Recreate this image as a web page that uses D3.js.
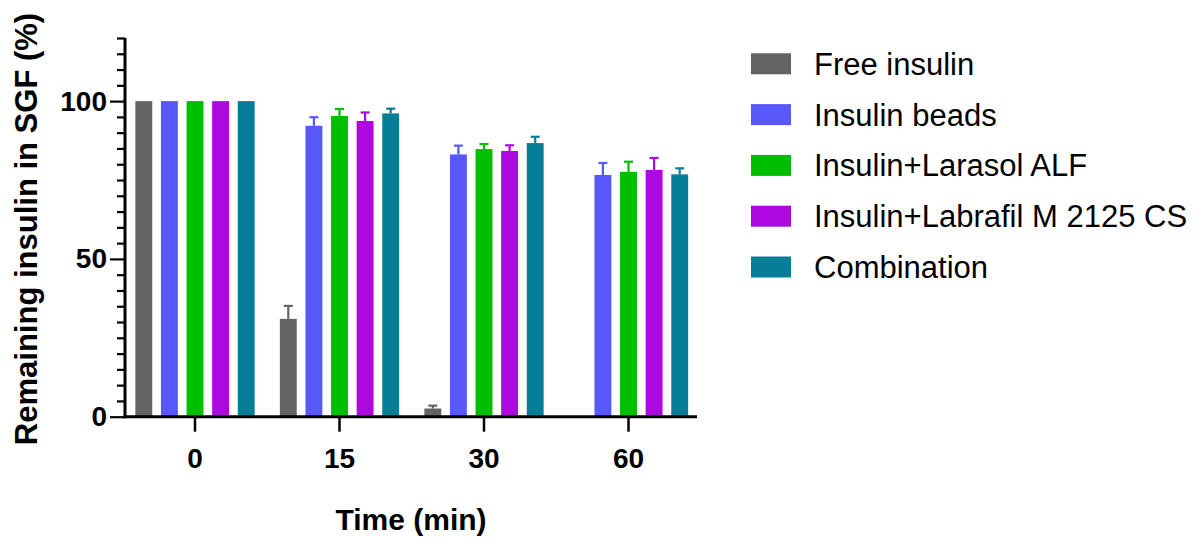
<!DOCTYPE html>
<html>
<head>
<meta charset="utf-8">
<script src="https://cdn.jsdelivr.net/npm/d3@7"></script>
<style>
  html, body { margin: 0; padding: 0; background: #fff; }
  svg { display: block; font-family: "Liberation Sans", Arial, sans-serif; }
  .tick text { font-size: 28px; font-weight: bold; fill: #000; font-family: "Liberation Sans", Arial, sans-serif; }
</style>
</head>
<body>
<svg id="chart" width="1199" height="537"></svg>
<script>
// Time points (min)
const timePoints = ["0", "15", "30", "60"];
// Formulations
const seriesNames = ["Free insulin", "Insulin beads", "Insulin+Larasol ALF", "Insulin+Labrafil M 2125 CS", "Combination"];
const seriesColors = ["#636363", "#5858fa", "#00bf00", "#ad08df", "#077e98"];
// Mean remaining insulin (%) per formulation, one entry per time point (null = not measured)
const freeInsulin     = [100, 31.0, 2.6, null];
const insulinBeads    = [100, 92.2, 83.1, 76.6];
const larasolALF      = [100, 95.3, 84.8, 77.6];
const labrafil        = [100, 93.7, 84.2, 78.2];
const combination     = [100, 96.1, 86.7, 76.8];
// Standard deviation (upper error bars)
const freeInsulinSD   = [0, 4.1, 0.9, null];
const insulinBeadsSD  = [0, 2.7, 2.8, 3.8];
const larasolALFSD    = [0, 2.2, 1.6, 3.2];
const labrafilSD      = [0, 2.7, 1.8, 3.8];
const combinationSD   = [0, 1.5, 2.0, 1.9];
// Y axis ticks
const yMajorTicks = [0, 50, 100];
const yMinorStep = 5;
const yMax = 120;

const means = [freeInsulin, insulinBeads, larasolALF, labrafil, combination];
const sds = [freeInsulinSD, insulinBeadsSD, larasolALFSD, labrafilSD, combinationSD];

const rows = [];
seriesNames.forEach((s, si) => {
  timePoints.forEach((t, ti) => {
    if (means[si][ti] != null) rows.push({ series: s, si, time: t, value: means[si][ti], sd: sds[si][ti] });
  });
});

const svg = d3.select("#chart");
const axisX = 125, plotRight = 697, baseY = 416.7, topY = 38;

const y = d3.scaleLinear().domain([0, yMax]).range([baseY, topY]);
const x0 = d3.scaleBand().domain(timePoints).range([122.75, 700.75]).padding(0);
const x1 = d3.scaleBand().domain(seriesNames).range([x0.bandwidth() / 2 - 64, x0.bandwidth() / 2 + 64])
  .paddingInner(0.34).paddingOuter(0.17);
const color = d3.scaleOrdinal().domain(seriesNames).range(seriesColors);

// Bars
const g = svg.append("g");
g.selectAll("rect.bar").data(rows).join("rect")
  .attr("class", "bar")
  .attr("x", d => x0(d.time) + x1(d.series))
  .attr("y", d => y(d.value))
  .attr("width", x1.bandwidth())
  .attr("height", d => y(0) - y(d.value))
  .attr("fill", d => color(d.series));

// Upper error bars
const eb = g.selectAll("g.err").data(rows.filter(d => d.sd > 0)).join("g").attr("class", "err")
  .attr("stroke", d => color(d.series)).attr("stroke-width", 2.2);
eb.append("line")
  .attr("x1", d => x0(d.time) + x1(d.series) + x1.bandwidth() / 2)
  .attr("x2", d => x0(d.time) + x1(d.series) + x1.bandwidth() / 2)
  .attr("y1", d => y(d.value))
  .attr("y2", d => y(d.value + d.sd));
eb.append("line")
  .attr("x1", d => x0(d.time) + x1(d.series) + x1.bandwidth() / 2 - 4.5)
  .attr("x2", d => x0(d.time) + x1(d.series) + x1.bandwidth() / 2 + 4.5)
  .attr("y1", d => y(d.value + d.sd))
  .attr("y2", d => y(d.value + d.sd));

// Y axis: minor ticks every 5, major labelled ticks
const minorTicks = d3.range(0, yMax + 0.001, yMinorStep).filter(v => !yMajorTicks.includes(v));
const yMinor = svg.append("g").attr("transform", `translate(${axisX},0)`)
  .call(d3.axisLeft(y).tickValues(minorTicks).tickSize(8).tickFormat(""));
yMinor.select(".domain").remove();
yMinor.selectAll(".tick line").attr("stroke", "#000").attr("stroke-width", 2.2);

const yMajor = svg.append("g").attr("transform", `translate(${axisX},0)`)
  .call(d3.axisLeft(y).tickValues(yMajorTicks).tickSize(15).tickPadding(3));
yMajor.select(".domain").remove();
yMajor.selectAll(".tick line").attr("stroke", "#000").attr("stroke-width", 2.2);

svg.append("line").attr("x1", axisX).attr("x2", axisX)
  .attr("y1", topY).attr("y2", baseY + 1.5)
  .attr("stroke", "#000").attr("stroke-width", 3);

// X axis
const xAxis = svg.append("g").attr("transform", `translate(0,${baseY})`)
  .call(d3.axisBottom(x0).tickSize(15).tickPadding(16));
xAxis.select(".domain").remove();
xAxis.selectAll(".tick line").attr("stroke", "#000").attr("stroke-width", 2.5);
svg.append("line").attr("x1", axisX - 1.5).attr("x2", plotRight)
  .attr("y1", baseY).attr("y2", baseY)
  .attr("stroke", "#000").attr("stroke-width", 3);

// Axis titles
svg.append("text")
  .attr("x", 411).attr("y", 530)
  .attr("text-anchor", "middle")
  .attr("font-size", 30).attr("font-weight", "bold")
  .text("Time (min)");
svg.append("text")
  .attr("transform", "translate(37,229) rotate(-90)")
  .attr("text-anchor", "middle")
  .attr("font-size", 31).attr("font-weight", "bold")
  .text("Remaining insulin in SGF (%)");

// Legend
const legend = svg.append("g").attr("transform", "translate(751,63.8)");
const li = legend.selectAll("g").data(seriesNames).join("g")
  .attr("transform", (d, i) => `translate(0,${i * 50.8})`);
li.append("rect").attr("x", 0).attr("y", -10.5).attr("width", 40).attr("height", 21)
  .attr("fill", d => color(d));
li.append("text").attr("x", 63).attr("y", 11)
  .attr("font-size", 31).attr("fill", "#000")
  .text(d => d);
</script>
</body>
</html>
